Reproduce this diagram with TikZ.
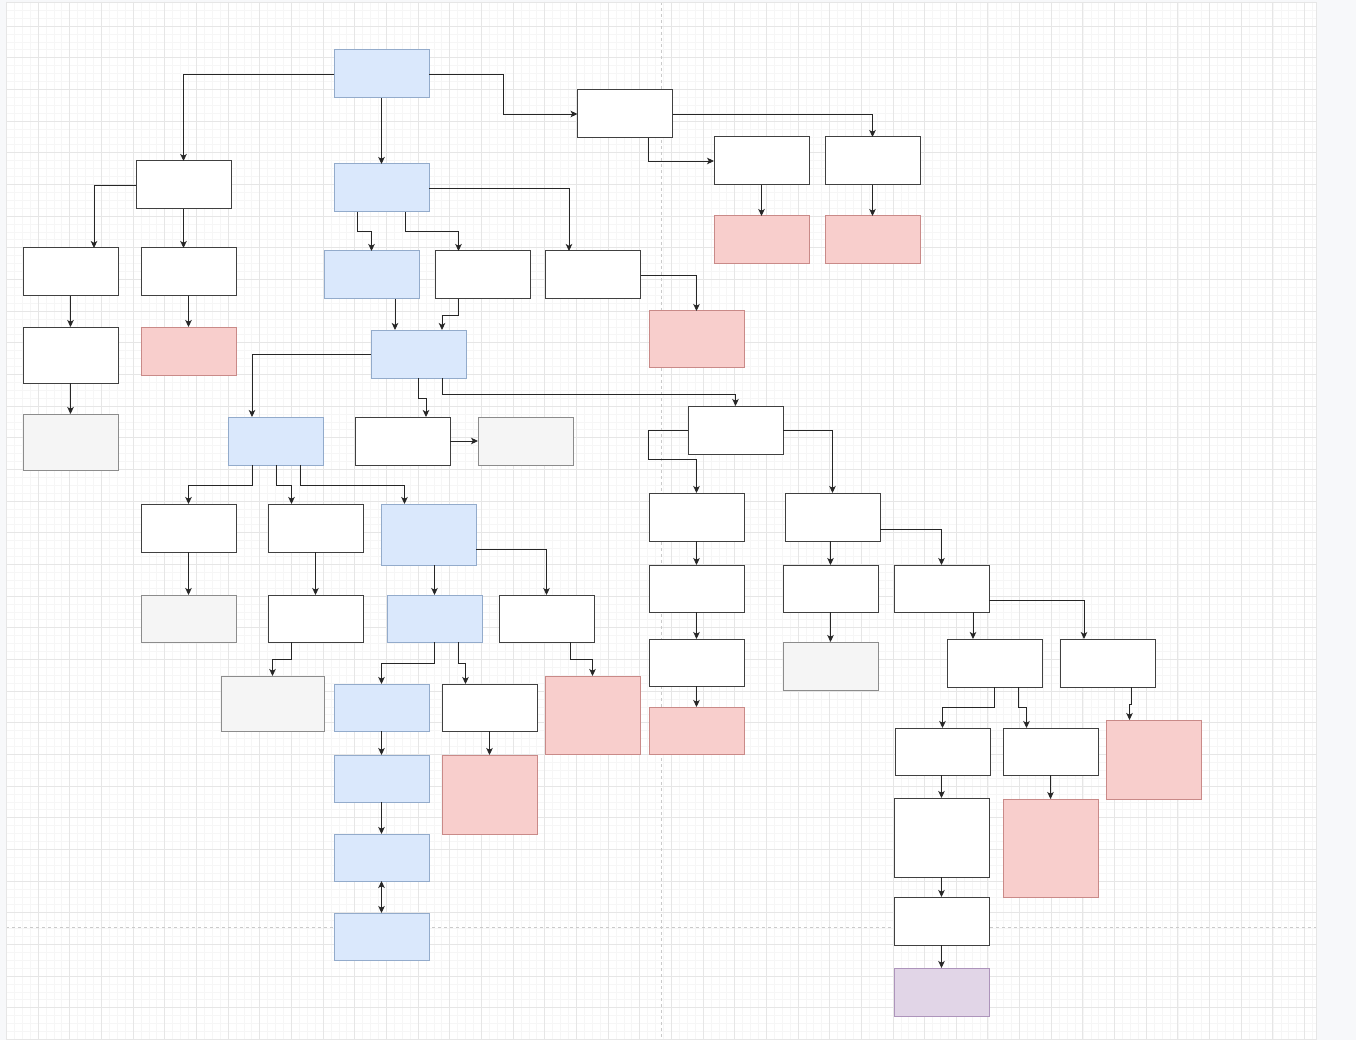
\documentclass[tikz,border=0pt]{standalone}
\usetikzlibrary{arrows.meta}
\definecolor{bluefill}{HTML}{DAE8FC}
\definecolor{bluedraw}{HTML}{93ABCB}
\definecolor{pinkfill}{HTML}{F8CECC}
\definecolor{pinkdraw}{HTML}{C98A88}
\definecolor{grayfill}{HTML}{F5F5F5}
\definecolor{graydraw}{HTML}{8C8C8C}
\definecolor{violfill}{HTML}{E1D5E7}
\definecolor{violdraw}{HTML}{AD94BB}
\definecolor{canvasbg}{HTML}{F7F8FA}
\definecolor{gridminor}{HTML}{F6F6F6}
\definecolor{gridmajor}{HTML}{E6E6E6}
\definecolor{pagebreak}{HTML}{CACACA}
\tikzset{
  fbox/.style={draw, line width=1pt, minimum width=95pt, minimum height=48pt, inner sep=0pt, outer sep=0pt},
  wht/.style={fbox, draw=black!75, fill=white},
  blu/.style={fbox, draw=bluedraw, fill=bluefill},
  pnk/.style={fbox, draw=pinkdraw, fill=pinkfill},
  gry/.style={fbox, draw=graydraw, fill=grayfill},
  vio/.style={fbox, draw=violdraw, fill=violfill},
  lnk/.style={line width=0.9pt, draw=black!85, -{Stealth[length=7pt,width=6.5pt,inset=1.8pt]}},
}

\begin{document}
\begin{tikzpicture}[x=1pt, y=-1pt]
\useasboundingbox (0,0) rectangle (1356,1040);
% canvas and grid
\fill[canvasbg] (0,0) rectangle (1356,1040);
\fill[white] (6,2) rectangle (1316,1040);
\begin{scope}
\clip (6,2) rectangle (1316,1040);
\foreach \i in {0,...,166} \draw[gridminor, line width=0.5pt] ({6.3+7.916*\i},2) -- ++(0,1038);
\foreach \i in {0,...,132} \draw[gridminor, line width=0.5pt] (6,{2.25+7.916*\i}) -- ++(1310,0);
\foreach \i in {0,...,41} \draw[gridmajor, line width=0.8pt] ({6.3+31.664*\i},2) -- ++(0,1038);
\foreach \i in {1,...,33} \draw[gridmajor, line width=0.8pt] (6,{-5.66+31.664*\i}) -- ++(1310,0);
\draw[pagebreak, line width=0.8pt, dash pattern=on 3pt off 3pt] (661.5,2) -- (661.5,1040);
\draw[pagebreak, line width=0.8pt, dash pattern=on 3pt off 3pt] (6,927.5) -- (1316,927.5);
\end{scope}
\draw[gridmajor, line width=0.8pt] (6,2) rectangle (1316,1040);

% boxes
\node[blu] (a) at (381.5,74) {};
\node[wht] (b) at (625,114) {};
\node[wht] (c) at (183.5,185) {};
\node[blu] (d) at (381.5,188) {};
\node[wht] (e) at (761.5,161) {};
\node[wht] (f) at (872.5,161) {};
\node[pnk] (g) at (761.5,240) {};
\node[pnk] (h) at (872.5,240) {};
\node[wht] (i) at (70.5,272) {};
\node[wht] (j) at (188.5,272) {};
\node[blu] (k) at (371.5,275) {};
\node[wht] (l) at (482.5,275) {};
\node[wht] (m) at (593,275) {};
\node[pnk, minimum height=56pt] (n) at (696.5,339) {};
\node[wht, minimum height=56pt] (o) at (70.5,355) {};
\node[pnk] (p) at (188.5,351) {};
\node[blu] (q) at (418.5,354) {};
\node[gry, minimum height=56pt] (r) at (70.5,442) {};
\node[blu] (s) at (276,441) {};
\node[wht] (t) at (402.5,441) {};
\node[gry] (u) at (525.5,441) {};
\node[wht] (v) at (735.5,430) {};
\node[wht] (w) at (188.5,528) {};
\node[wht] (x) at (315.5,528) {};
\node[blu, minimum height=61pt] (y) at (428.5,534.5) {};
\node[wht] (z) at (696.5,517) {};
\node[wht] (aa) at (832.5,517) {};
\node[gry, minimum height=47pt] (ab) at (188.5,618.5) {};
\node[wht, minimum height=47pt] (ac) at (315.5,618.5) {};
\node[blu, minimum height=47pt] (ad) at (434.5,618.5) {};
\node[wht, minimum height=47pt] (ae) at (546.5,618.5) {};
\node[wht, minimum height=47pt] (af) at (696.5,588.5) {};
\node[wht, minimum height=47pt] (ag) at (830.5,588.5) {};
\node[wht, minimum height=47pt] (ah) at (941.5,588.5) {};
\node[wht, minimum height=47pt] (ai) at (696.5,662.5) {};
\node[gry] (aj) at (830.5,666) {};
\node[wht] (ak) at (994.5,663) {};
\node[wht] (al) at (1107.5,663) {};
\node[gry, minimum width=103pt, minimum height=55pt] (am) at (272.5,703.5) {};
\node[blu, minimum height=47pt] (an) at (381.5,707.5) {};
\node[wht, minimum height=47pt] (ao) at (489.5,707.5) {};
\node[pnk, minimum height=78pt] (ap) at (592.5,715) {};
\node[pnk, minimum height=47pt] (aq) at (696.5,730.5) {};
\node[blu, minimum height=47pt] (ar) at (381.5,778.5) {};
\node[pnk, minimum height=79pt] (as) at (489.5,794.5) {};
\node[wht, minimum height=47pt] (at) at (942.5,751.5) {};
\node[wht, minimum height=47pt] (au) at (1050.5,751.5) {};
\node[pnk, minimum height=79pt] (av) at (1153.5,759.5) {};
\node[blu, minimum height=47pt] (aw) at (381.5,857.5) {};
\node[wht, minimum height=79pt] (ax) at (941.5,837.5) {};
\node[pnk, minimum height=98pt] (ay) at (1050.5,848) {};
\node[wht] (az) at (941.5,921) {};
\node[blu, minimum height=47pt] (ba) at (381.5,936.5) {};
\node[vio] (bb) at (941.5,992) {};

% links
\draw[lnk] (a.west) -| (c.north);
\draw[lnk] (a.south) -- (d.north);
\draw[lnk] (a.east) -- ++(74,0) |- (b.west);
\draw[lnk] (b.east) -| (f.north);
\draw[lnk] ([xshift=23]b.south) |- (e.west);
\draw[lnk] (e.south) -- (g.north);
\draw[lnk] (f.south) -- (h.north);
\draw[lnk] (c.west) -| ([xshift=23.5]i.north);
\draw[lnk] (c.south) -- (c.south |- j.north);
\draw[lnk] (i.south) -- (o.north);
\draw[lnk] (o.south) -- (r.north);
\draw[lnk] (j.south) -- (p.north);
\draw[lnk] ([xshift=-24]d.south) -- ++(0,19) -| (k.north);
\draw[lnk] ([xshift=24]d.south) -- ++(0,19) -| ([xshift=-24]l.north);
\draw[lnk] (d.east) -| ([xshift=-24]m.north);
\draw[lnk] (m.east) -| (n.north);
\draw[lnk] ([xshift=23.5]k.south) -- ([xshift=23.5]k.south |- q.north);
\draw[lnk] ([xshift=-24]l.south) -- ++(0,16) -| ([xshift=23.5]q.north);
\draw[lnk] (q.west) -| ([xshift=-24]s.north);
\draw[lnk] (q.south) -- ++(0,20) -| ([xshift=23.5]t.north);
\draw[lnk] ([xshift=23.5]q.south) -- ++(0,16) -| (v.north);
\draw[lnk] (t.east) -- (u.west);
\draw[lnk] (v.west) -- ++(-40,0) -- ++(0,29) -| (z.north);
\draw[lnk] (v.east) -| (aa.north);
\draw[lnk] ([xshift=-24]s.south) -- ++(0,20) -| (w.north);
\draw[lnk] (s.south) -- ++(0,20) -| ([xshift=-24]x.north);
\draw[lnk] ([xshift=24]s.south) -- ++(0,20) -| ([xshift=-24]y.north);
\draw[lnk] (w.south) -- (ab.north);
\draw[lnk] (x.south) -- (ac.north);
\draw[lnk] (ad.north |- y.south) -- (ad.north);
\draw[lnk] ([yshift=-15]y.east) -| (ae.north);
\draw[lnk] ([xshift=-24]ac.south) -- ++(0,17) -| (am.north);
\draw[lnk] (ad.south) -- ++(0,21) -| (an.north);
\draw[lnk] ([xshift=24]ad.south) -- ++(0,21) -| ([xshift=-24]ao.north);
\draw[lnk] ([xshift=24]ae.south) -- ++(0,17) -| (ap.north);
\draw[lnk] (an.south) -- (ar.north);
\draw[lnk] (ao.south) -- (as.north);
\draw[lnk] (ar.south) -- (aw.north);
\draw[lnk, {Stealth[length=7pt,width=6.5pt,inset=1.8pt]}-{Stealth[length=7pt,width=6.5pt,inset=1.8pt]}] (aw.south) -- (ba.north);
\draw[lnk] (z.south) -- (af.north);
\draw[lnk] (af.south) -- (ai.north);
\draw[lnk] (ai.south) -- (aq.north);
\draw[lnk] (ag.north |- aa.south) -- (ag.north);
\draw[lnk] (ag.south) -- (aj.north);
\draw[lnk] ([yshift=-12]aa.east) -| (ah.north);
\draw[lnk] ([xshift=31.5]ah.south) -- ([xshift=31.5]ah.south |- ak.north);
\draw[lnk] ([yshift=-12]ah.east) -| ([xshift=-23.5]al.north);
\draw[lnk] (ak.south) -- ++(0,20) -| (at.north);
\draw[lnk] ([xshift=24]ak.south) -- ++(0,20) -| ([xshift=-24]au.north);
\draw[lnk] ([xshift=24]al.south) -- ++(0,17) -| ([xshift=-24]av.north);
\draw[lnk] (ax.north |- at.south) -- (ax.north);
\draw[lnk] (au.south) -- (ay.north);
\draw[lnk] (ax.south) -- (az.north);
\draw[lnk] (az.south) -- (bb.north);
\end{tikzpicture}
\end{document}
